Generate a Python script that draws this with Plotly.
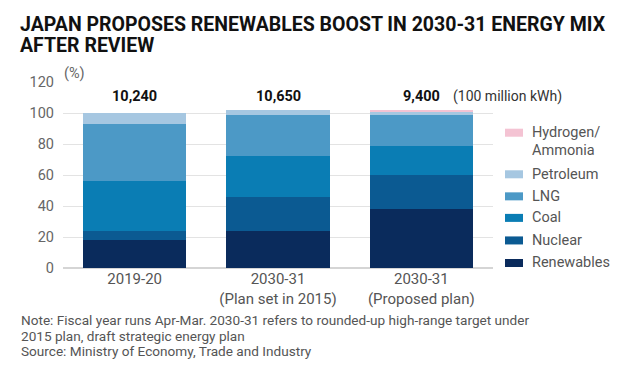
import plotly.graph_objects as go

categories = ["2019-20", "2030-31<br>(Plan set in 2015)", "2030-31<br>(Proposed plan)"]
renewables = [18, 24, 38]
nuclear = [6, 22, 22]
coal = [32, 26, 19]
lng = [37, 27, 20]
petroleum = [7, 3, 2]
hydrogen = [0, 0, 1]
totals = ["10,240", "10,650", "9,400"]
y_ticks = [0, 20, 40, 60, 80, 100, 120]
title_lines = ["JAPAN PROPOSES RENEWABLES BOOST IN 2030-31 ENERGY MIX", "AFTER REVIEW"]
note_lines = ["Note: Fiscal year runs Apr-Mar. 2030-31 refers to rounded-up high-range target under",
              "2015 plan, draft strategic energy plan",
              "Source: Ministry of Economy, Trade and Industry"]

series = [
    ("Renewables", renewables, "#0a2b5c"),
    ("Nuclear", nuclear, "#0b5a92"),
    ("Coal", coal, "#0a7db4"),
    ("LNG", lng, "#4c99c6"),
    ("Petroleum", petroleum, "#a6c7e1"),
    ("Hydrogen/<br>Ammonia", hydrogen, "#f4c3d3"),
]

FONT = "Roboto"
OFF = 8  # page body margin
W, H = 619 - OFF, 375 - OFF
PX0, PX1, PY0, PY1 = 63, 493, 82.4, 268  # plot box in screenshot pixels
L, R, T, B = PX0 - OFF, W - (PX1 - OFF), PY0 - OFF, H - (PY1 - OFF)
pw, ph = PX1 - PX0, PY1 - PY0


def fx(px):
    return (px - PX0) / pw


def fy(py):
    return (PY1 - py) / ph


fig = go.Figure()
for name, vals, col in series:
    fig.add_trace(go.Bar(x=categories, y=vals, name=name, marker=dict(color=col, line=dict(width=0)),
                         showlegend=False, hoverinfo="skip"))

fig.update_layout(
    barmode="stack", bargap=0.28,
    width=W, height=H,
    margin=dict(l=L, r=R, t=T, b=B, pad=0),
    paper_bgcolor="white", plot_bgcolor="white",
    font=dict(family=FONT, size=14, color="#555555"),
    xaxis=dict(range=[-0.5, 2.5], showgrid=False, zeroline=False, showline=False,
               tickfont=dict(size=15, color="#555555"), ticks="", ticklabelstandoff=0),
    yaxis=dict(range=[0, 120], tickvals=y_ticks, showgrid=True, gridcolor="#e3e3e3", gridwidth=1,
               zeroline=True, zerolinecolor="#d5d5d5", showline=False, ticks="",
               ticklabelstandoff=8, tickfont=dict(size=14.5, color="#666666")),
)

anns = []
for line, yc in zip(title_lines, [25, 46]):
    anns.append(dict(text="<b>" + line + "</b>", xref="paper", yref="paper", x=fx(18), y=fy(yc),
                     xanchor="left", yanchor="middle", showarrow=False,
                     font=dict(family=FONT, size=19.5, color="#111111")))
for i, t in enumerate(totals):
    anns.append(dict(text="<b>" + t + "</b>", x=categories[i], y=fy(97) * 120, xref="x", yref="y",
                     showarrow=False, font=dict(family=FONT, size=14.5, color="#111111")))
anns.append(dict(text="(100 million kWh)", x=fx(451), y=fy(97), xref="paper", yref="paper",
                 xanchor="left", yanchor="middle", showarrow=False,
                 font=dict(family=FONT, size=14, color="#333333")))
anns.append(dict(text="(%)", x=fx(62), y=fy(74), xref="paper", yref="paper",
                 xanchor="left", yanchor="middle", showarrow=False,
                 font=dict(family=FONT, size=14.5, color="#666666")))
for line, yc in zip(note_lines, [320, 335.5, 351]):
    anns.append(dict(text=line, x=fx(19), y=fy(yc), xref="paper", yref="paper",
                     xanchor="left", yanchor="middle", showarrow=False,
                     font=dict(family=FONT, size=13.6, color="#555555")))

leg_y = {"Hydrogen/<br>Ammonia": 133, "Petroleum": 174.5, "LNG": 196.5, "Coal": 218,
         "Nuclear": 240.5, "Renewables": 263}
shapes = []
for name, vals, col in series:
    yc = leg_y[name]
    shapes.append(dict(type="rect", xref="paper", yref="paper",
                       x0=fx(505), x1=fx(523), y0=fy(yc + 4), y1=fy(yc - 4),
                       fillcolor=col, line=dict(width=0)))
    parts = name.split("<br>")
    for k, p in enumerate(parts):
        anns.append(dict(text=p, x=fx(530), y=fy(yc + 18 * k), xref="paper", yref="paper",
                         xanchor="left", yanchor="middle", showarrow=False,
                         font=dict(family=FONT, size=14.5, color="#555555")))

fig.update_layout(annotations=anns, shapes=shapes)
fig.write_html("out.html")
